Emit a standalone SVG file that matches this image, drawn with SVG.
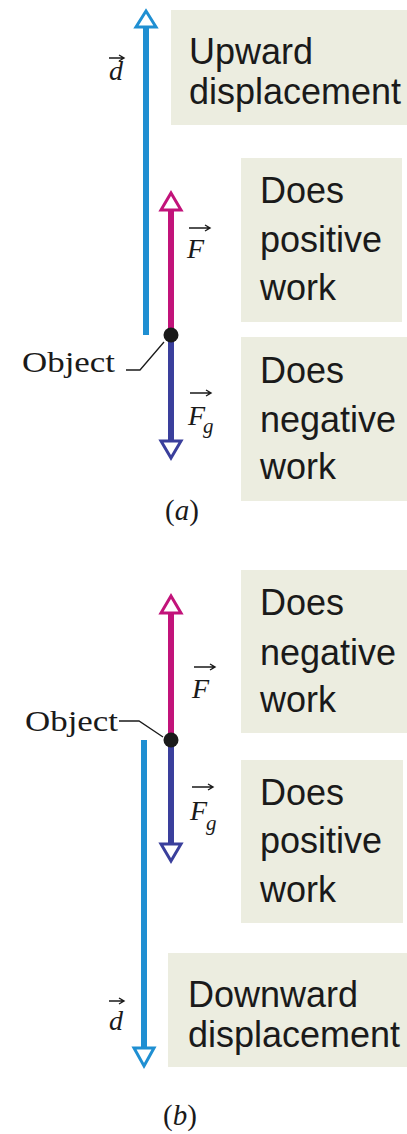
<svg xmlns="http://www.w3.org/2000/svg" width="407" height="1134" viewBox="0 0 407 1134">
<style>
.box{fill:#ecede0}
.lbl{font-family:"Liberation Sans",Arial,sans-serif;font-size:36px;fill:#1a1a1a}
.sym{font-family:"Liberation Serif","Times New Roman",serif;font-style:italic;font-size:28px;fill:#1a1a1a}
.sub{font-family:"Liberation Serif","Times New Roman",serif;font-style:italic;font-size:21px;fill:#1a1a1a}
.ser{font-family:"Liberation Serif","Times New Roman",serif;font-size:29px;fill:#1a1a1a}
.va{stroke:#1a1a1a;stroke-width:1.4;fill:none}
.d{stroke:#1f8fd2;stroke-width:6;fill:none}
.f{stroke:#c2137a;stroke-width:6;fill:none}
.g{stroke:#3a3f9c;stroke-width:6;fill:none}
.hd{fill:#fff;stroke-width:3;stroke-linejoin:miter}
.lead{stroke:#1a1a1a;stroke-width:1.3;fill:none}
</style>
<g id="box-upward"><rect class="box" x="171" y="10" width="236" height="115"/><text class="lbl" x="189" y="64">Upward</text><text class="lbl" x="189" y="104">displacement</text></g>
<g id="box-a-pos"><rect class="box" x="241" y="158" width="161" height="164"/><text class="lbl" x="260" y="203">Does</text><text class="lbl" x="260" y="252">positive</text><text class="lbl" x="260" y="300">work</text></g>
<g id="box-a-neg"><rect class="box" x="241" y="337" width="166" height="164"/><text class="lbl" x="260" y="383">Does</text><text class="lbl" x="260" y="432">negative</text><text class="lbl" x="260" y="479">work</text></g>
<g id="box-b-neg"><rect class="box" x="241" y="570" width="166" height="163"/><text class="lbl" x="260" y="615">Does</text><text class="lbl" x="260" y="665">negative</text><text class="lbl" x="260" y="712">work</text></g>
<g id="box-b-pos"><rect class="box" x="241" y="760" width="162" height="163"/><text class="lbl" x="260" y="805">Does</text><text class="lbl" x="260" y="853">positive</text><text class="lbl" x="260" y="902">work</text></g>
<g id="box-downward"><rect class="box" x="168" y="953" width="239" height="114"/><text class="lbl" x="188" y="1007">Downward</text><text class="lbl" x="188" y="1047">displacement</text></g>
<g id="connectors">
<line class="d" x1="146" y1="27" x2="146" y2="335"/>
<polygon class="hd" stroke="#1f8fd2" points="146,11 156,27 136,27"/>
<line class="f" x1="171" y1="210" x2="171" y2="335"/>
<polygon class="hd" stroke="#c2137a" points="171,193 181,210 161,210"/>
<line class="g" x1="171" y1="335" x2="171" y2="441"/>
<polygon class="hd" stroke="#3a3f9c" points="171,458 181,441 161,441"/>
<line class="f" x1="171" y1="613" x2="171" y2="740"/>
<polygon class="hd" stroke="#c2137a" points="171,596 181,613 161,613"/>
<line class="g" x1="171" y1="740" x2="171" y2="844"/>
<polygon class="hd" stroke="#3a3f9c" points="171,861 181,844 161,844"/>
<line class="d" x1="144" y1="740" x2="144" y2="1048"/>
<polygon class="hd" stroke="#1f8fd2" points="144,1066 154,1048 134,1048"/>
<path class="lead" d="M126 370 L140 370 L164 342"/>
<path class="lead" d="M119 721 L139 721 L163 737"/>
</g>
<g id="object-a"><circle cx="171" cy="335" r="7.5" fill="#1a1a1a"/><text class="ser" x="22" y="372" textLength="93" lengthAdjust="spacingAndGlyphs">Object</text></g>
<g id="object-b"><circle cx="171" cy="740" r="7.5" fill="#1a1a1a"/><text class="ser" x="25" y="731" textLength="93" lengthAdjust="spacingAndGlyphs">Object</text></g>
<g id="label-d-a"><text class="sym" x="109" y="80">d</text><path class="va" d="M109 58 H124 M119 55 L124 58 L119 61"/></g>
<g id="label-F-a"><text class="sym" x="187" y="258">F</text><path class="va" d="M189 228 H210 M205 225 L210 228 L205 231"/></g>
<g id="label-Fg-a"><text class="sym" x="188" y="425">F</text><text class="sub" x="203" y="433">g</text><path class="va" d="M190 393 H211 M206 390 L211 393 L206 396"/></g>
<g id="label-F-b"><text class="sym" x="192" y="698">F</text><path class="va" d="M194 667 H215 M210 664 L215 667 L210 670"/></g>
<g id="label-Fg-b"><text class="sym" x="190" y="820">F</text><text class="sub" x="206" y="830">g</text><path class="va" d="M192 787 H213 M208 784 L213 787 L208 790"/></g>
<g id="label-d-b"><text class="sym" x="109" y="1030">d</text><path class="va" d="M109 1001 H124 M119 998 L124 1001 L119 1004"/></g>
<g id="caption-a"><text class="ser" x="182" y="520" text-anchor="middle" font-size="28">(<tspan font-style="italic">a</tspan>)</text></g>
<g id="caption-b"><text class="ser" x="180" y="1125" text-anchor="middle" font-size="28">(<tspan font-style="italic">b</tspan>)</text></g>
</svg>
